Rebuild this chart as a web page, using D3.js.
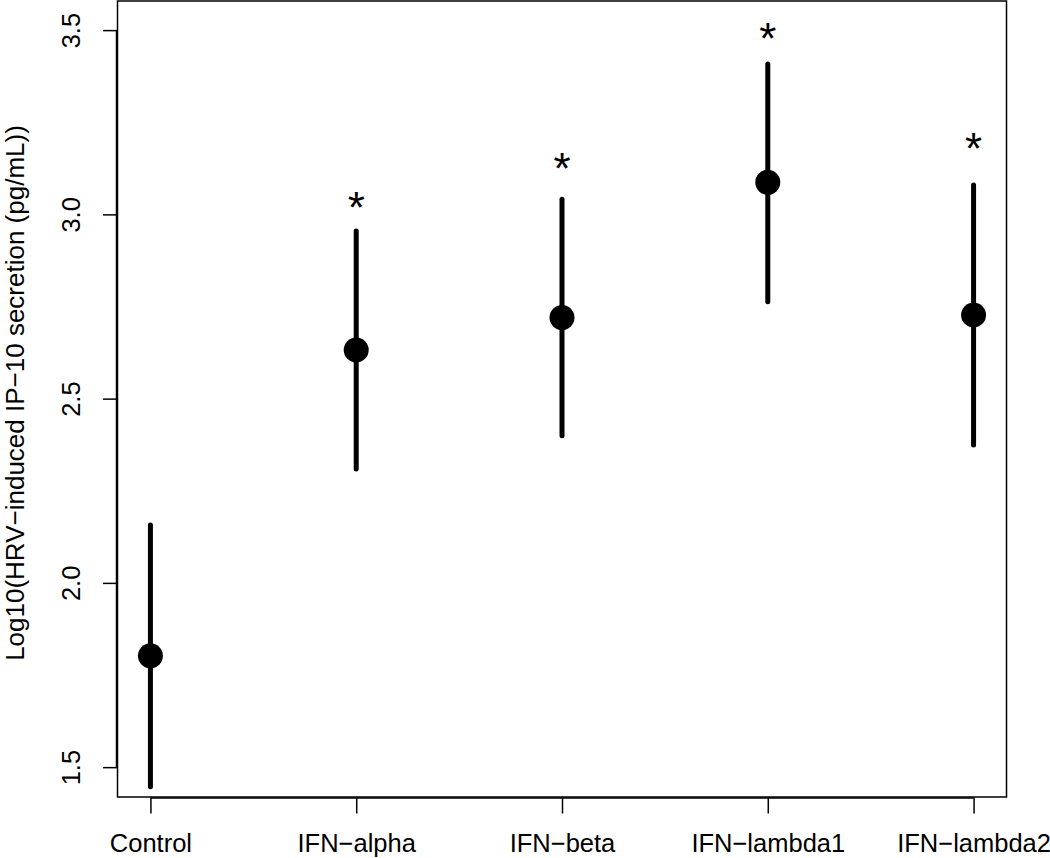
<!DOCTYPE html>
<html><head><meta charset="utf-8">
<script src="https://cdn.jsdelivr.net/npm/d3@7"></script>
<style>body{margin:0;background:#fff}svg{display:block}text{font-family:"Liberation Sans",Arial,sans-serif;fill:#000}</style>
</head><body>
<script>
const categories = ["Control","IFN\u2212alpha","IFN\u2212beta","IFN\u2212lambda1","IFN\u2212lambda2"];
const means = [1.802, 2.632, 2.720, 3.087, 2.727];
const lower = [1.447, 2.309, 2.399, 2.763, 2.374];
const upper = [2.157, 2.955, 3.041, 3.408, 3.080];
const starY = [null, 3.033, 3.140, 3.492, 3.193];
const yTicks = [1.5, 2.0, 2.5, 3.0, 3.5];
const yLabel = "Log10(HRV\u2212induced IP\u221210 secretion (pg/mL))";

const W = 1050, H = 858;
const L = 117.5, R = 1006.5, T = 1, B = 797;
const svg = d3.select("body").append("svg").attr("width", W).attr("height", H);

const x = d3.scaleLinear().domain([0.84, 5.16]).range([L, R]);
const y = d3.scaleLinear().domain([1.419, 3.579]).range([B, T]);

// box
svg.append("rect").attr("x", L).attr("y", T).attr("width", R - L).attr("height", B - T)
  .attr("fill", "none").attr("stroke", "#000").attr("stroke-width", 1.5);

// y axis
const yAxis = d3.axisLeft(y).tickValues(yTicks).tickFormat(d3.format(".1f")).tickSize(14).tickPadding(0);
const gy = svg.append("g").attr("transform", `translate(${L - 0.5},0)`).call(yAxis);
gy.select(".domain").attr("d", `M-0.5,${y(1.5)}V${y(3.5)}`).attr("stroke-width", 1.5);
gy.selectAll(".tick line").attr("stroke-width", 1.5);
gy.selectAll(".tick text").attr("x", null).attr("dy", null)
  .attr("transform", "translate(-37,0) rotate(-90)")
  .attr("text-anchor", "middle").style("font-size", "25.5px")
  .attr("font-family", "Liberation Sans, Arial, sans-serif");

// x axis
const xAxis = d3.axisBottom(x).tickValues([1,2,3,4,5]).tickFormat(d => categories[d - 1]).tickSize(16).tickPadding(0);
const gx = svg.append("g").attr("transform", `translate(0,${B + 0.5})`).call(xAxis);
gx.select(".domain").attr("d", `M${x(1)},0.5H${x(5)}`).attr("stroke-width", 1.5);
gx.selectAll(".tick line").attr("stroke-width", 1.5);
gx.selectAll(".tick text").attr("y", 54).attr("dy", null)
  .style("font-size", "25.5px").attr("font-family", "Liberation Sans, Arial, sans-serif");

// y label
svg.append("text").attr("transform", `translate(24,${(T + B) / 2 - 6}) rotate(-90)`)
  .attr("text-anchor", "middle").style("font-size", "26px").text(yLabel);

const data = categories.map((c, i) => ({i: i + 1, m: means[i], lo: lower[i], hi: upper[i], s: starY[i]}));

svg.selectAll("line.err").data(data).enter().append("line").attr("class", "err")
  .attr("x1", d => x(d.i)).attr("x2", d => x(d.i))
  .attr("y1", d => y(d.lo)).attr("y2", d => y(d.hi))
  .attr("stroke", "#000").attr("stroke-width", 5).attr("stroke-linecap", "round");

svg.selectAll("circle.pt").data(data).enter().append("circle").attr("class", "pt")
  .attr("cx", d => x(d.i)).attr("cy", d => y(d.m)).attr("r", 12.5).attr("fill", "#000");

svg.selectAll("text.star").data(data.filter(d => d.s != null)).enter().append("text").attr("class", "star")
  .attr("x", d => x(d.i)).attr("y", d => y(d.s)).attr("dy", "0.48em")
  .attr("text-anchor", "middle").style("font-size", "44px").text("*");
</script>
</body></html>
